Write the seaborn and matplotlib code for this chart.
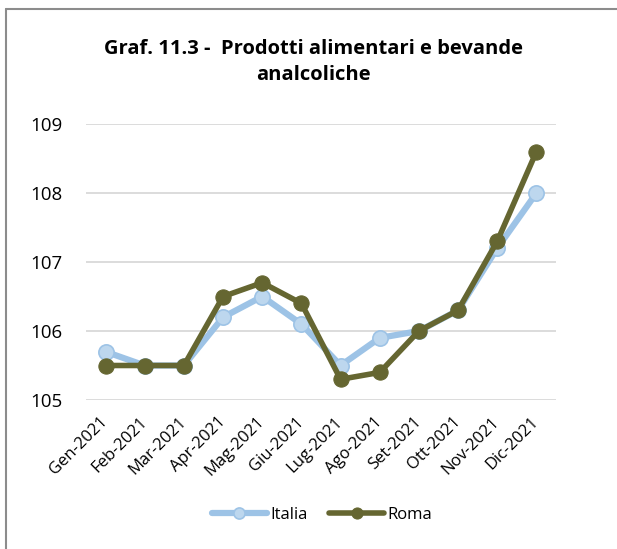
import matplotlib
matplotlib.use("Agg")
import matplotlib.pyplot as plt
import seaborn as sns
import pandas as pd
from matplotlib.lines import Line2D

mesi = ["Gen-2021", "Feb-2021", "Mar-2021", "Apr-2021", "Mag-2021", "Giu-2021",
        "Lug-2021", "Ago-2021", "Set-2021", "Ott-2021", "Nov-2021", "Dic-2021"]
italia = [105.7, 105.5, 105.5, 106.2, 106.5, 106.1, 105.5, 105.9, 106.0, 106.3, 107.2, 108.0]
roma = [105.5, 105.5, 105.5, 106.5, 106.7, 106.4, 105.3, 105.4, 106.0, 106.3, 107.3, 108.6]
yticks = [105, 106, 107, 108, 109]
title = "Graf. 11.3 -  Prodotti alimentari e bevande\nanalcoliche"

sns.set_theme(style="white")
plt.rcParams['font.family'] = ['Open Sans', 'DejaVu Sans']
plt.rcParams['text.color'] = 'black'
plt.rcParams['xtick.color'] = 'black'
plt.rcParams['ytick.color'] = 'black'

df_it = pd.DataFrame({"mese": mesi, "valore": italia})
df_rm = pd.DataFrame({"mese": mesi, "valore": roma})

fig = plt.figure(figsize=(6.17, 5.49), dpi=100)
ax = fig.add_axes([86/617, 1-400/549, (556-86)/617, (400-124)/549])

for y in yticks:
    ax.axhline(y, color="#D9D9D9", lw=1.3, zorder=0)

sns.lineplot(data=df_it, x="mese", y="valore", ax=ax, color="#9DC3E6", lw=4.5,
             marker="o", markersize=11, markerfacecolor="#BDD7EE",
             markeredgecolor="#9DC3E6", markeredgewidth=1.2, label="Italia", zorder=3)
sns.lineplot(data=df_rm, x="mese", y="valore", ax=ax, color="#656631", lw=4,
             marker="o", markersize=11, markerfacecolor="#656631",
             markeredgecolor="#656631", label="Roma", zorder=4)

ax.set_xlim(-0.5, len(mesi) - 0.5)
ax.set_ylim(105, 109)
ax.set_yticks(yticks)
ax.set_yticklabels([str(v) for v in yticks], fontsize=13.5)
ax.set_xticks(range(len(mesi)))
ax.set_xticklabels(mesi, rotation=45, ha="right", va="center", rotation_mode="anchor",
                   fontsize=12)
ax.tick_params(axis="x", length=0, pad=14)
ax.tick_params(axis="y", length=0, pad=17)
ax.set_xlabel("")
ax.set_ylabel("")
for s in ax.spines.values():
    s.set_visible(False)

fig.text(313/617, 1-62/549, title, ha="center", va="center", fontsize=14.5,
         fontweight="bold", linespacing=1.45)

leg = ax.legend(loc="center", bbox_to_anchor=(322/617, 1-515/549), bbox_transform=fig.transFigure,
                ncol=2, frameon=False, fontsize=12, handlelength=3.3, handletextpad=0.2,
                columnspacing=1.3)
for h in leg.legend_handles:
    h.set_markersize(8)

fig.add_artist(Line2D([6/617, 6/617], [0, 1-9/549], color="#8C8C8C", lw=1.5,
                      transform=fig.transFigure))
fig.add_artist(Line2D([6/617, 1], [1-9/549, 1-9/549], color="#8C8C8C", lw=1.5,
                      transform=fig.transFigure))

fig.savefig("out.png", dpi=100)
